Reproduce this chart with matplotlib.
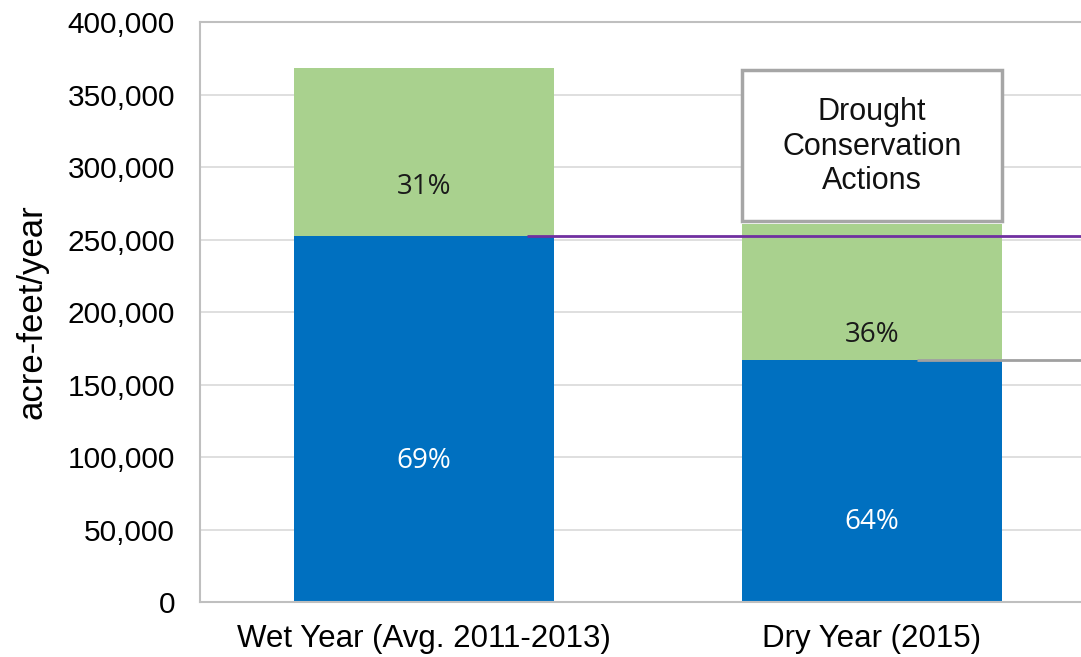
import numpy as np
import matplotlib.pyplot as plt

# data (acre-feet/year)
categories   = ["Wet Year (Avg. 2011-2013)", "Dry Year (2015)"]
blue_values  = [252500, 167000]
green_values = [115500, 94000]
blue_labels  = ["69%", "64%"]
green_labels = ["31%", "36%"]
yticks = np.arange(0, 400001, 50000)

BLUE = "#0070C0"
GREEN = "#A9D18E"
PURPLE = "#7030A0"
GREY = "#A6A6A6"

plt.rcParams['font.family'] = ['Liberation Sans', 'DejaVu Sans']

fig = plt.figure(figsize=(10.81, 6.57), dpi=100)
ax = fig.add_axes([0.185, 0.0837, 0.8289, 0.8828])

x = np.arange(len(categories))
w = 0.58
ax.bar(x, blue_values, w, color=BLUE, zorder=2)
ax.bar(x, green_values, w, bottom=blue_values, color=GREEN, zorder=2)

# percentage labels (placed a bit low in each segment, like the original)
blue_label_y  = [97000, 55000]
green_label_y = [286000, 184000]
for i in range(len(x)):
    ax.text(x[i], blue_label_y[i], blue_labels[i], ha="center", va="center",
            color="white", fontsize=20, family=["Open Sans", "DejaVu Sans"])
    ax.text(x[i], green_label_y[i], green_labels[i], ha="center", va="center",
            color="#1A1A1A", fontsize=20, family=["Open Sans", "DejaVu Sans"])

# reference lines
ax.plot([x[0] + 0.23, 1.6], [blue_values[0]] * 2, color=PURPLE, lw=2, zorder=3,
        solid_capstyle="butt")
ax.plot([x[1] + 0.1, 1.6], [blue_values[1]] * 2, color="#A0A0A0", lw=2, zorder=3,
        solid_capstyle="butt")

# annotation box
ax.text(x[1], 314000, "Drought\nConservation\nActions", ha="center", va="center",
        fontsize=22, linespacing=1.2, zorder=4, color="#111111")
ax.add_patch(plt.Rectangle((x[1] - w / 2, 263000), w, 104000, facecolor="white",
                           edgecolor=GREY, lw=2.5, zorder=3))

ax.set_xlim(-0.5, 1.5)
ax.set_ylim(0, 400000)
ax.set_yticks(yticks)
ax.set_yticklabels([f"{v:,}" for v in yticks], fontsize=21.5)
ax.set_xticks(x)
ax.set_xticklabels(categories, fontsize=22.5)
ax.tick_params(axis="y", length=0, pad=18)
ax.tick_params(axis="x", length=0, pad=16)
ax.set_ylabel("acre-feet/year", fontsize=25)
ax.yaxis.set_label_coords(-0.169, 0.5)

ax.grid(axis="y", color="#D9D9D9", lw=1.2, zorder=0)
for s in ax.spines.values():
    s.set_color("#BFBFBF")
    s.set_linewidth(1.5)

fig.savefig("out.png", dpi=100)
